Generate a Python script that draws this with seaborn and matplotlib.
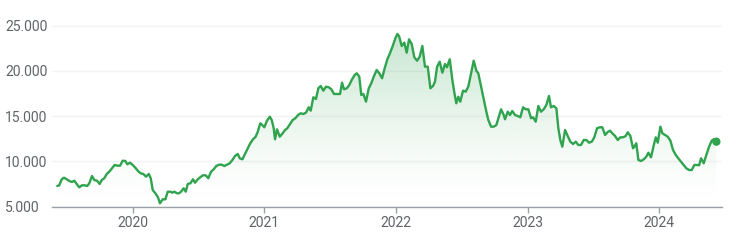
import numpy as np
import pandas as pd
import matplotlib
matplotlib.use("Agg")
import matplotlib.pyplot as plt
import seaborn as sns
from matplotlib.colors import to_rgb

# ---- data (decimal years, closing values) ----
dates_2019 = [2019.427, 2019.442, 2019.461, 2019.478, 2019.499, 2019.518, 2019.539, 2019.556,
              2019.575, 2019.594, 2019.615, 2019.635, 2019.655, 2019.670, 2019.691, 2019.708,
              2019.729, 2019.749, 2019.765, 2019.784, 2019.803, 2019.822, 2019.843, 2019.863,
              2019.883, 2019.904, 2019.924, 2019.944, 2019.959, 2019.980]
values_2019 = [7267, 7345, 8008, 8185, 8008, 7820, 7710, 7853,
               7490, 7120, 7345, 7345, 7267, 7566, 8373, 7930,
               7853, 7490, 7930, 8120, 8595, 8850, 9225, 9590,
               9515, 9515, 10065, 10030, 9667, 9845]

dates_2020 = [2020.000, 2020.020, 2020.040, 2020.061, 2020.081, 2020.101, 2020.122, 2020.137,
              2020.152, 2020.172, 2020.192, 2020.207, 2020.228, 2020.248, 2020.266, 2020.286,
              2020.301, 2020.316, 2020.337, 2020.352, 2020.367, 2020.387, 2020.403, 2020.418,
              2020.438, 2020.458, 2020.473, 2020.494, 2020.513, 2020.534, 2020.555, 2020.574,
              2020.595, 2020.615, 2020.635, 2020.656, 2020.676, 2020.696, 2020.716, 2020.737,
              2020.757, 2020.777, 2020.798, 2020.813, 2020.833, 2020.853, 2020.874, 2020.893,
              2020.914, 2020.934, 2020.950, 2020.969, 2020.984]
values_2020 = [9590, 9290, 8926, 8670, 8595, 8300, 8595, 8120,
               6825, 6460, 6018, 5354, 5796, 5796, 6637, 6637,
               6526, 6637, 6460, 6460, 6637, 7013, 6637, 7490,
               7566, 8008, 7633, 8008, 8230, 8450, 8450, 8120,
               8850, 9115, 9480, 9625, 9625, 9480, 9625, 9780,
               10143, 10585, 10806, 10330, 10220, 10806, 11437, 11990,
               12430, 12720, 13273, 14200, 14014]

dates_2021 = [2021.000, 2021.020, 2021.041, 2021.056, 2021.071, 2021.081, 2021.096, 2021.117,
              2021.139, 2021.157, 2021.174, 2021.195, 2021.215, 2021.235, 2021.256, 2021.276,
              2021.296, 2021.316, 2021.337, 2021.352, 2021.372, 2021.392, 2021.410, 2021.428,
              2021.448, 2021.468, 2021.489, 2021.509, 2021.529, 2021.550, 2021.575, 2021.590,
              2021.605, 2021.626, 2021.645, 2021.666, 2021.686, 2021.702, 2021.721, 2021.736,
              2021.752, 2021.772, 2021.793, 2021.812, 2021.833, 2021.853, 2021.873, 2021.894,
              2021.914, 2021.934, 2021.954, 2021.975, 2021.995]
values_2021 = [13760, 14490, 14932, 14567, 13650, 12432, 13538, 12720,
               13096, 13461, 13650, 14124, 14567, 14755, 15120, 15308,
               15230, 15375, 15970, 15597, 17077, 16890, 18073, 18330,
               17808, 18250, 18184, 17963, 17443, 17443, 17443, 18694,
               17963, 18073, 18438, 19068, 19545, 19730, 19355, 17333,
               17443, 16594, 18073, 18626, 19433, 20097, 19730, 19180,
               20285, 21280, 21944, 22752, 23603]

dates_2022 = [2022.010, 2022.023, 2022.043, 2022.063, 2022.081, 2022.099, 2022.119, 2022.139,
              2022.160, 2022.180, 2022.200, 2022.220, 2022.241, 2022.261, 2022.281, 2022.296,
              2022.312, 2022.332, 2022.352, 2022.372, 2022.387, 2022.408, 2022.428, 2022.443,
              2022.458, 2022.473, 2022.488, 2022.509, 2022.529, 2022.549, 2022.570, 2022.590,
              2022.610, 2022.625, 2022.646, 2022.666, 2022.686, 2022.701, 2022.722, 2022.742,
              2022.762, 2022.777, 2022.798, 2022.818, 2022.828, 2022.849, 2022.866, 2022.883,
              2022.904, 2022.924, 2022.944, 2022.965, 2022.985]
values_2022 = [24078, 23857, 22752, 23120, 22010, 23492, 22973, 21500,
               21126, 21568, 22752, 20462, 20462, 18073, 18330, 18803,
               20462, 21015, 19800, 20760, 20395, 21280, 18990, 17590,
               16414, 17140, 16590, 17808, 17700, 18250, 19730, 21126,
               20020, 19730, 18250, 16856, 15485, 14567, 13826, 13826,
               14014, 14755, 15750, 15120, 14645, 15485, 15120, 15560,
               15120, 15010, 14866, 15970, 15750]

dates_2023 = [2023.005, 2023.026, 2023.041, 2023.061, 2023.081, 2023.101, 2023.122, 2023.142,
              2023.162, 2023.177, 2023.198, 2023.218, 2023.233, 2023.248, 2023.263, 2023.284,
              2023.304, 2023.324, 2023.345, 2023.365, 2023.385, 2023.405, 2023.426, 2023.446,
              2023.466, 2023.487, 2023.506, 2023.527, 2023.547, 2023.567, 2023.588, 2023.608,
              2023.626, 2023.643, 2023.664, 2023.684, 2023.704, 2023.724, 2023.745, 2023.760,
              2023.780, 2023.800, 2023.810, 2023.825, 2023.841, 2023.861, 2023.882, 2023.901,
              2023.917, 2023.937, 2023.958, 2023.973, 2023.988]
values_2023 = [15750, 14755, 14866, 14380, 16115, 15485, 15750, 16226,
               17222, 15970, 16115, 15860, 13650, 12355, 11614, 13461,
               12797, 12167, 11912, 12167, 11802, 11802, 12355, 12355,
               12057, 12167, 12650, 13650, 13760, 13760, 12908, 13240,
               13383, 13096, 12797, 12355, 12650, 12650, 12797, 13207,
               12797, 11437, 11614, 11990, 10143, 10032, 10220, 10508,
               10950, 10440, 11802, 12650, 12057]

dates_2024 = [2024.008, 2024.023, 2024.043, 2024.064, 2024.084, 2024.104, 2024.125, 2024.144,
              2024.165, 2024.185, 2024.205, 2024.226, 2024.246, 2024.266, 2024.286, 2024.302,
              2024.317, 2024.337, 2024.357, 2024.378, 2024.398, 2024.413, 2024.433]
values_2024 = [13826, 13096, 12908, 12720, 12278, 11250, 10696, 10331,
               9955, 9590, 9225, 9037, 9037, 9590, 9590, 9560,
               10331, 9780, 10696, 11614, 12278, 12432, 12167]

year_ticks = [2020, 2021, 2022, 2023, 2024]
year_labels = ["2020", "2021", "2022", "2023", "2024"]
y_ticks = [5000, 10000, 15000, 20000, 25000]
y_labels = ["5.000", "10.000", "15.000", "20.000", "25.000"]

dates = dates_2019 + dates_2020 + dates_2021 + dates_2022 + dates_2023 + dates_2024
values = values_2019 + values_2020 + values_2021 + values_2022 + values_2023 + values_2024
df = pd.DataFrame({"date": dates, "close": values})

GREEN = "#2fa34e"
AXIS_GREY = "#9aa0a6"
TEXT_GREY = "#5f6368"
GRID = "#f1f3f4"

sns.set_theme(style="white")
plt.rcParams["font.family"] = ["Roboto", "DejaVu Sans"]

fig = plt.figure(figsize=(7.38, 2.41), dpi=100)
ax = fig.add_axes([52 / 738, 34.5 / 241, 670 / 738, 189.9 / 241])

XMIN, XMAX = 2019.387, 2024.476
YMIN, YMAX = 5000, 26000

# gradient fill under the line
fill = ax.fill_between(df["date"], df["close"], YMIN, facecolor="none", edgecolor="none")
g = np.linspace(0, 1, 256)[:, None]
rgba = np.zeros((256, 1, 4))
rgba[..., :3] = to_rgb(GREEN)
rgba[..., 3] = 0.27 * g ** 1.4
im = ax.imshow(rgba, aspect="auto", origin="lower",
               extent=[XMIN, XMAX, YMIN, df["close"].max()], zorder=1)
im.set_clip_path(fill.get_paths()[0], transform=ax.transData)

sns.lineplot(data=df, x="date", y="close", color=GREEN, linewidth=1.7, ax=ax, zorder=3)
last = df.iloc[[-1]]
sns.scatterplot(data=last, x="date", y="close", color=GREEN, s=36, edgecolor="none",
                ax=ax, zorder=4)

ax.set_xlim(XMIN, XMAX)
ax.set_ylim(YMIN, YMAX)
ax.set_xlabel("")
ax.set_ylabel("")

ax.set_yticks(y_ticks)
ax.set_yticklabels(y_labels)
ax.set_xticks(year_ticks)
ax.set_xticklabels(year_labels)

ax.yaxis.grid(True, color=GRID, linewidth=1, zorder=0)
ax.xaxis.grid(False)
ax.set_axisbelow(True)

for s in ["top", "right", "left"]:
    ax.spines[s].set_visible(False)
ax.spines["bottom"].set_color(AXIS_GREY)
ax.spines["bottom"].set_linewidth(1)
ax.spines["bottom"].set_zorder(5)

ax.tick_params(axis="y", length=0, pad=33.8, labelsize=10, labelcolor=TEXT_GREY)
for lbl in ax.get_yticklabels():
    lbl.set_horizontalalignment("left")
ax.tick_params(axis="x", bottom=True, length=4.5, width=1, color=AXIS_GREY, direction="out",
               pad=2.5, labelsize=10, labelcolor=TEXT_GREY)

fig.savefig("out.png", dpi=100)
